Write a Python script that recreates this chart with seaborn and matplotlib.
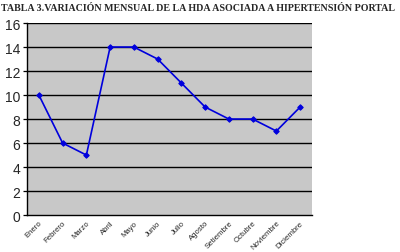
import numpy as np
import matplotlib
matplotlib.use("Agg")
import matplotlib.pyplot as plt
import seaborn as sns
import pandas as pd

# datos
meses = ["Enero", "Febrero", "Marzo", "Abril", "Mayo", "Junio", "Julio",
         "Agosto", "Setiembre", "Octubre", "Noviembre", "Diciembre"]
casos = [10, 6, 5, 14, 14, 13, 11, 9, 8, 8, 7, 9]
y_ticks = [0, 2, 4, 6, 8, 10, 12, 14, 16]

df = pd.DataFrame({"pos": np.arange(len(meses)), "casos": casos})

sns.set_style("white")
plt.rcParams['font.family'] = ['Liberation Sans', 'DejaVu Sans']

fig = plt.figure(figsize=(4, 2.53), dpi=100)
ax = fig.add_axes([0.0675, 0.146, 0.7125, 0.759])
ax.set_facecolor("#C8C8C8")

sns.lineplot(data=df, x="pos", y="casos", ax=ax, color="#0000DD",
             marker="D", markersize=2.8, markeredgecolor="#0000DD", linewidth=1.2)

ax.set_xlim(-0.5, len(meses) - 0.5)
ax.set_ylim(0, 16)
ax.set_yticks(y_ticks)
ax.set_yticklabels([str(v) for v in y_ticks], fontsize=10)
for v in y_ticks[1:]:
    ax.axhline(v, color="black", linewidth=1.0, zorder=0.5)

ax.set_xticks(np.arange(len(meses)))
ax.set_xticklabels(meses, rotation=45, ha="right", rotation_mode="anchor", fontsize=5.6)
ax.tick_params(axis="x", which="major", length=0, pad=3)
ax.set_xticks(np.arange(-0.5, len(meses)), minor=True)
ax.tick_params(axis="x", which="minor", length=3, width=0.9, color="black")
ax.tick_params(axis="y", length=3, width=0.9, color="black", pad=2, left=True)

for s in ["top", "right"]:
    ax.spines[s].set_visible(False)
for s in ["left", "bottom"]:
    ax.spines[s].set_color("black")
    ax.spines[s].set_linewidth(1.0)

ax.set_xlabel("")
ax.set_ylabel("")

fig.text(0.003, 0.965, "TABLA 3.VARIACIÓN MENSUAL DE LA HDA ASOCIADA A HIPERTENSIÓN PORTAL",
         family=["Liberation Serif", "DejaVu Serif"], fontweight="bold", fontsize=7.2,
         va="center", ha="left")

fig.savefig("out.png", dpi=100)
